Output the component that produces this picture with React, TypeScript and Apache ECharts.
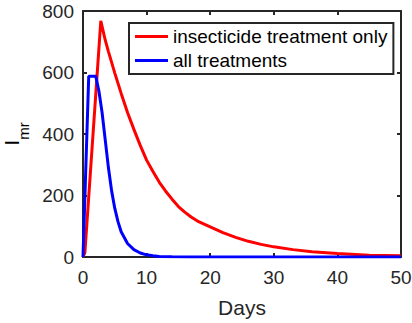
import React, { useEffect, useRef } from "react";
import * as echarts from "echarts";

const redDays = [0, 0.3, 2.8, 3.5, 4, 4.5, 5, 6, 7, 8, 9, 10, 11, 12, 13, 14, 15, 16, 17, 18, 20, 22, 24, 26, 28, 30, 33, 36, 40, 45, 50];
const redValues = [0, 15, 768, 705, 668, 633, 598, 532, 470, 415, 363, 315, 278, 243, 214, 188, 164, 146, 130, 117, 98, 79, 64, 51, 41, 33, 24, 17, 11, 6, 4];

const blueDays = [0, 0.9, 2.0, 2.5, 3, 3.5, 4, 4.5, 5, 5.5, 6, 7, 8, 9, 10, 11, 12, 14, 17, 20, 30, 40, 50];
const blueValues = [0, 588, 588, 540, 470, 380, 290, 215, 158, 115, 82, 44, 24, 13, 7, 4, 2, 1, 0.4, 0.2, 0, 0, 0];

const xTicks = [0, 10, 20, 30, 40, 50];
const yTicks = [0, 200, 400, 600, 800];

const seriesNames = ["insecticide treatment only", "all treatments"];

const FONT = "Liberation Sans, Arial, Helvetica, sans-serif";
const AX = "#262626";

export default function App() {
  const ref = useRef<HTMLDivElement>(null);
  useEffect(() => {
    if (!ref.current) return;
    const chart = echarts.init(ref.current, null, { renderer: "svg" });
    const xMin = xTicks[0];
    const xMax = xTicks[xTicks.length - 1];
    const xInt = xTicks[1] - xTicks[0];
    const yMin = yTicks[0];
    const yMax = yTicks[yTicks.length - 1];
    const yInt = yTicks[1] - yTicks[0];
    const axisCommon = {
      type: "value" as const,
      axisLine: { show: true, onZero: false, lineStyle: { color: AX, width: 2 } },
      axisTick: { show: true, inside: true, length: 4, lineStyle: { color: AX, width: 2 } },
      splitLine: { show: false },
    };
    chart.setOption({
      animation: false,
      backgroundColor: "#fff",
      textStyle: { fontFamily: FONT },
      grid: { left: 83, top: 11, right: 11, bottom: 66, containLabel: false, outerBoundsMode: "none" },
      legend: {
        orient: "vertical",
        left: 129,
        top: 23,
        backgroundColor: "#fff",
        borderColor: AX,
        borderWidth: 2,
        borderRadius: 0,
        padding: [4, 6, 4, 6],
        itemGap: 5,
        itemWidth: 33,
        itemHeight: 3,
        icon: "rect",
        data: seriesNames,
        textStyle: { fontSize: 19, color: "#000", fontFamily: FONT },
      },
      xAxis: [
        {
          ...axisCommon,
          position: "bottom",
          min: xMin,
          max: xMax,
          interval: xInt,
          name: "Days",
          nameLocation: "middle",
          nameGap: 40,
          nameTextStyle: { fontSize: 21, color: AX, fontFamily: FONT },
          axisLabel: { fontSize: 19, color: AX, margin: 11, fontFamily: FONT },
        },
        {
          ...axisCommon,
          position: "top",
          min: xMin,
          max: xMax,
          interval: xInt,
          axisLabel: { show: false },
        },
      ],
      yAxis: [
        {
          ...axisCommon,
          position: "left",
          min: yMin,
          max: yMax,
          interval: yInt,
          name: "{i|I}{s|mr}",
          nameLocation: "middle",
          nameGap: 55,
          nameRotate: 90,
          nameTextStyle: {
            color: "#000",
            fontFamily: FONT,
            rich: {
              i: { fontSize: 21, color: "#000", fontFamily: FONT, verticalAlign: "top", lineHeight: 21 },
              s: { fontSize: 15, color: "#000", fontFamily: FONT, verticalAlign: "top", lineHeight: 15, padding: [15, 0, 0, 0] },
            },
          },
          axisLabel: { fontSize: 19, color: AX, margin: 9, fontFamily: FONT },
        },
        {
          ...axisCommon,
          position: "right",
          min: yMin,
          max: yMax,
          interval: yInt,
          axisLabel: { show: false },
        },
      ],
      series: [
        {
          name: seriesNames[0],
          type: "line",
          xAxisIndex: 0,
          yAxisIndex: 0,
          showSymbol: false,
          symbol: "none",
          color: "#ff0000",
          lineStyle: { color: "#ff0000", width: 3 },
          data: redDays.map((d, i) => [d, redValues[i]]),
        },
        {
          name: seriesNames[1],
          type: "line",
          xAxisIndex: 0,
          yAxisIndex: 0,
          showSymbol: false,
          symbol: "none",
          color: "#0000ff",
          lineStyle: { color: "#0000ff", width: 3 },
          data: blueDays.map((d, i) => [d, blueValues[i]]),
        },
      ],
    });
    return () => chart.dispose();
  }, []);
  return (
    <div
      ref={ref}
      style={{ position: "fixed", left: 0, top: 0, width: 412, height: 323, background: "#fff" }}
    />
  );
}
